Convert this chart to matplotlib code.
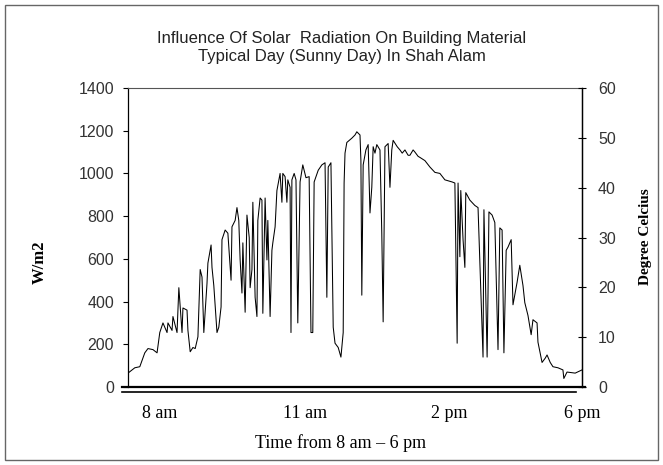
import numpy as np
import matplotlib.pyplot as plt
from matplotlib.lines import Line2D
from matplotlib.patches import Rectangle

# solar radiation (hours after midnight, W/m2)
hours = [8.00, 8.15, 8.26, 8.37, 8.44, 8.55, 8.64, 8.70, 8.77, 8.86, 8.88, 8.97, 8.99,
         9.08, 9.12, 9.19, 9.21, 9.30, 9.32, 9.37, 9.43, 9.48, 9.54, 9.59, 9.63, 9.67,
         9.74, 9.76, 9.83, 9.85, 9.89, 9.96, 10.00, 10.05, 10.07, 10.14, 10.20, 10.27,
         10.29, 10.36, 10.40, 10.44, 10.47, 10.51, 10.53, 10.58, 10.62, 10.67, 10.69,
         10.73, 10.75, 10.80, 10.84, 10.86, 10.91, 10.95, 10.97, 11.02, 11.06, 11.08,
         11.13, 11.17, 11.19, 11.24, 11.28, 11.35, 11.39, 11.41, 11.46, 11.50, 11.52,
         11.57, 11.59, 11.61, 11.66, 11.70, 11.74, 11.79, 11.85, 11.92, 11.99, 12.03,
         12.07, 12.10, 12.19, 12.27, 12.34, 12.38, 12.41, 12.47, 12.52, 12.56, 12.63,
         12.69, 12.74, 12.76, 12.78, 12.82, 12.93, 13.00, 13.04, 13.11, 13.13, 13.15,
         13.18, 13.24, 13.29, 13.33, 13.37, 13.40, 13.44, 13.48, 13.55, 13.59, 13.62,
         13.66, 13.73, 13.77, 13.81, 13.84, 13.93, 13.99, 14.04, 14.10, 14.17, 14.21,
         14.28, 14.32, 14.39, 14.43, 14.54, 14.65, 14.76, 14.87, 14.98, 15.14, 15.20,
         15.25, 15.27, 15.31, 15.33, 15.38, 15.42, 15.44, 15.53, 15.64, 15.71, 15.80,
         15.82, 15.84, 15.91, 15.93, 15.95, 16.02, 16.08, 16.15, 16.19, 16.24, 16.28,
         16.33, 16.37, 16.44, 16.48, 16.57, 16.63, 16.70, 16.74, 16.81, 16.88, 16.92,
         17.01, 17.03, 17.12, 17.19, 17.23, 17.30, 17.36, 17.47, 17.58, 17.60, 17.67,
         17.85, 18.00]
radiation = [65, 90, 95, 160, 180, 175, 160, 255, 300, 255, 300, 265, 330,
             255, 465, 255, 370, 360, 265, 165, 185, 180, 235, 550, 515, 255,
             485, 580, 665, 560, 475, 255, 280, 375, 690, 735, 720, 500,
             750, 780, 840, 780, 595, 440, 675, 350, 805, 700, 465,
             550, 865, 420, 330, 780, 885, 875, 345, 885, 595, 780,
             330, 640, 675, 750, 920, 1000, 865, 1000, 985, 865, 970,
             935, 255, 970, 1000, 970, 300, 960, 1040, 980, 985, 255,
             255, 960, 1015, 1040, 1050, 420, 1030, 1050, 280, 205, 185,
             140, 255, 955, 1095, 1145, 1165, 1180, 1195, 1180, 1060, 430,
             1040, 1110, 1135, 815, 935, 1125, 1095, 1135, 1110, 720, 305,
             1125, 1140, 935, 1110, 1155, 1125, 1110, 1095, 1110, 1085, 1085,
             1110, 1100, 1080, 1075, 1060, 1030, 1005, 1000, 970, 960, 955,
             205, 955, 610, 920, 690, 560, 910, 875, 850, 840, 255,
             140, 830, 140, 440, 820, 805, 770, 175, 745, 735, 160,
             640, 655, 690, 385, 490, 570, 475, 395, 335, 245, 315,
             300, 210, 115, 135, 150, 115, 95, 90, 80, 40, 70,
             65, 80]

tick_hours = [8.70, 11.90, 15.07, 18.0]
tick_labels = ['8 am', '11 am', '2 pm', '6 pm']
rad_ticks = np.arange(0, 1401, 200)
temp_ticks = np.arange(0, 61, 10)

W, H = 663, 465
fig = plt.figure(figsize=(W / 100, H / 100), dpi=100)
ax = fig.add_axes([128 / W, 1 - 387 / H, 454 / W, 299 / H])

ax.plot(hours, radiation, color='black', lw=0.75)
ax.set_xlim(8, 18)
ax.set_ylim(0, 1400)

ax.set_yticks(rad_ticks)
ax.tick_params(axis='y', direction='out', length=3.6, width=0.8, pad=6.5,
               labelsize=11.5, labelcolor='#333333')
ax.set_xticks(tick_hours)
ax.set_xticklabels(tick_labels, family='Liberation Serif', fontsize=13)
ax.tick_params(axis='x', length=0, pad=13)
for lbl in ax.get_yticklabels():
    lbl.set_family('Liberation Sans')

ax.spines['top'].set_linestyle((0, (1, 1)))
ax.spines['top'].set_color('#555555')
ax.spines['bottom'].set_visible(False)
ax.spines['left'].set_linewidth(0.9)
ax.spines['right'].set_linewidth(1.0)

ax.set_xlabel('Time from 8 am \u2013 6 pm', family='Liberation Serif', fontsize=13)
ax.xaxis.set_label_coords((341 - 128) / 454, (387 - 434) / 299)

# right axis for temperature
ax2 = ax.twinx()
ax2.set_ylim(0, 60)
ax2.set_yticks(temp_ticks)
ax2.tick_params(axis='y', direction='inout', length=6, width=0.8, pad=8.5,
                labelsize=11.5, labelcolor='#333333')
for lbl in ax2.get_yticklabels():
    lbl.set_family('Liberation Sans')
for s in ['top', 'bottom', 'left']:
    ax2.spines[s].set_visible(False)

# double base line under the plot
fig.add_artist(Line2D([122 / W, 585 / W], [1 - 387 / H, 1 - 387 / H],
                      color='black', lw=1.6))
fig.add_artist(Line2D([122 / W, 576 / W], [1 - 392 / H, 1 - 392 / H],
                      color='black', lw=1.2))

fig.text(342 / W, 1 - 38 / H, 'Influence Of Solar  Radiation On Building Material',
         ha='center', va='center', fontsize=12, family='Liberation Sans', color='#222222')
fig.text(342 / W, 1 - 57 / H, 'Typical Day (Sunny Day) In Shah Alam',
         ha='center', va='center', fontsize=12, family='Liberation Sans', color='#222222')

fig.text(40 / W, 1 - 262 / H, 'W/m2', rotation=90, ha='center', va='center',
         family='Liberation Serif', weight='bold', fontsize=12)
fig.text(646 / W, 1 - 237 / H, 'Degree Celcius', rotation=90, ha='center', va='center',
         family='Liberation Serif', weight='bold', fontsize=11)

fig.add_artist(Rectangle((5 / W, 5 / H), 1 - 10 / W, 1 - 10 / H, fill=False,
                         edgecolor='#666666', lw=1.0, transform=fig.transFigure))

fig.savefig('out.png', dpi=100)
